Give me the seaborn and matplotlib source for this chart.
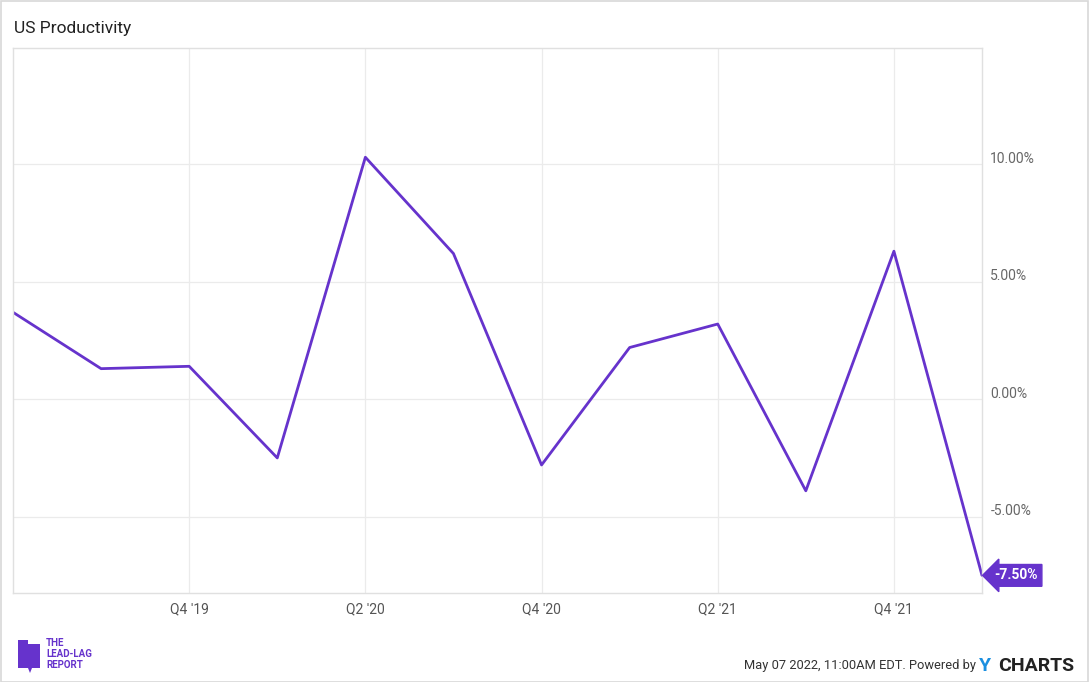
import matplotlib
matplotlib.use("Agg")
import matplotlib.pyplot as plt
import seaborn as sns
import pandas as pd
import numpy as np
from matplotlib.patches import Polygon, Rectangle

quarters = ["Q2 '19", "Q3 '19", "Q4 '19", "Q1 '20", "Q2 '20", "Q3 '20",
            "Q4 '20", "Q1 '21", "Q2 '21", "Q3 '21", "Q4 '21", "Q1 '22"]
productivity = [3.7, 1.3, 1.4, -2.5, 10.3, 6.2, -2.8, 2.2, 3.2, -3.9, 6.3, -7.5]
tick_labels = ["Q4 '19", "Q2 '20", "Q4 '20", "Q2 '21", "Q4 '21"]
y_ticks = [-5, 0, 5, 10]

sns.set_theme(style="white")
plt.rcParams['font.family'] = ['Roboto', 'DejaVu Sans']

df = pd.DataFrame({"idx": np.arange(len(quarters)), "quarter": quarters, "value": productivity})

W, H = 1089, 682
fig = plt.figure(figsize=(W / 100, H / 100), dpi=100)
ax = fig.add_axes([13 / W, 1 - 593 / H, (982 - 13) / W, (593 - 48) / H])

line_color = "#6633CC"
sns.lineplot(data=df, x="idx", y="value", ax=ax, color=line_color, linewidth=2.0)

ax.set_xlim(0, len(quarters) - 1)
ax.set_ylim(-8.25, 14.95)

tick_pos = [quarters.index(t) for t in tick_labels]
ax.set_xticks(tick_pos)
ax.set_xticklabels(tick_labels, color="#555555", fontsize=10)
ax.set_yticks(y_ticks)
ax.set_yticklabels([])
ax.tick_params(axis="both", length=0, pad=7)
ax.set_xlabel("")
ax.set_ylabel("")
ax.grid(True, color="#ebebeb", linewidth=0.9)
for s in ax.spines.values():
    s.set_color("#e0e0e0")
    s.set_linewidth(1.0)

# right-side y labels sitting slightly above gridlines
for v in y_ticks:
    ax.annotate(f"{v:.2f}%", xy=(1, v), xycoords=("axes fraction", "data"),
                xytext=(6, 4), textcoords="offset points", ha="left", va="center",
                fontsize=10, color="#666666", annotation_clip=False)

# last value tag
last = productivity[-1]
ax.annotate(f"{last:.2f}%", xy=(1, last), xycoords=("axes fraction", "data"),
            xytext=(9, 0), textcoords="offset points", ha="left", va="center",
            fontsize=10, fontweight="bold", color="white", annotation_clip=False,
            bbox=dict(boxstyle="larrow,pad=0.28", fc=line_color, ec=line_color))

# title
fig.text(14 / W, 1 - 28 / H, "US Productivity", fontsize=12.5, color="#222222",
         ha="left", va="center")

# footer
fig.text(976 / W, 1 - 666 / H, "May 07 2022, 11:00AM EDT. Powered by", fontsize=9.3,
         color="#333333", ha="right", va="center")
fig.text(979 / W, 1 - 666 / H, "Y", fontsize=14, fontweight="bold", color="#1a8fe0",
         ha="left", va="center")
fig.text(998 / W, 1 - 666 / H, "CHARTS", fontsize=14, fontweight="bold", color="#222222",
         ha="left", va="center")

# logo
logo_color = "#6633CC"
pts = np.array([[18, 640], [28, 640], [28, 644], [40, 644], [40, 668], [32, 668], [30, 673], [28, 668], [18, 668]])
fig.patches.append(Polygon(np.column_stack([pts[:, 0] / W, 1 - pts[:, 1] / H]), closed=True,
                           transform=fig.transFigure, fc=logo_color, ec="none"))
fig.text(46 / W, 1 - 643 / H, "THE", fontsize=7, fontweight="bold", color=logo_color, ha="left", va="center")
fig.text(46 / W, 1 - 654 / H, "LEAD-LAG", fontsize=7, fontweight="bold", color=logo_color, ha="left", va="center")
fig.text(46 / W, 1 - 665 / H, "REPORT", fontsize=7, fontweight="bold", color=logo_color, ha="left", va="center")

# figure border
fig.patches.append(Rectangle((0.5 / W, 0.5 / H), 1 - 1.5 / W, 1 - 1.5 / H, transform=fig.transFigure,
                             fill=False, ec="#d8d8d8", lw=1.2))

fig.savefig("out.png", dpi=100)
